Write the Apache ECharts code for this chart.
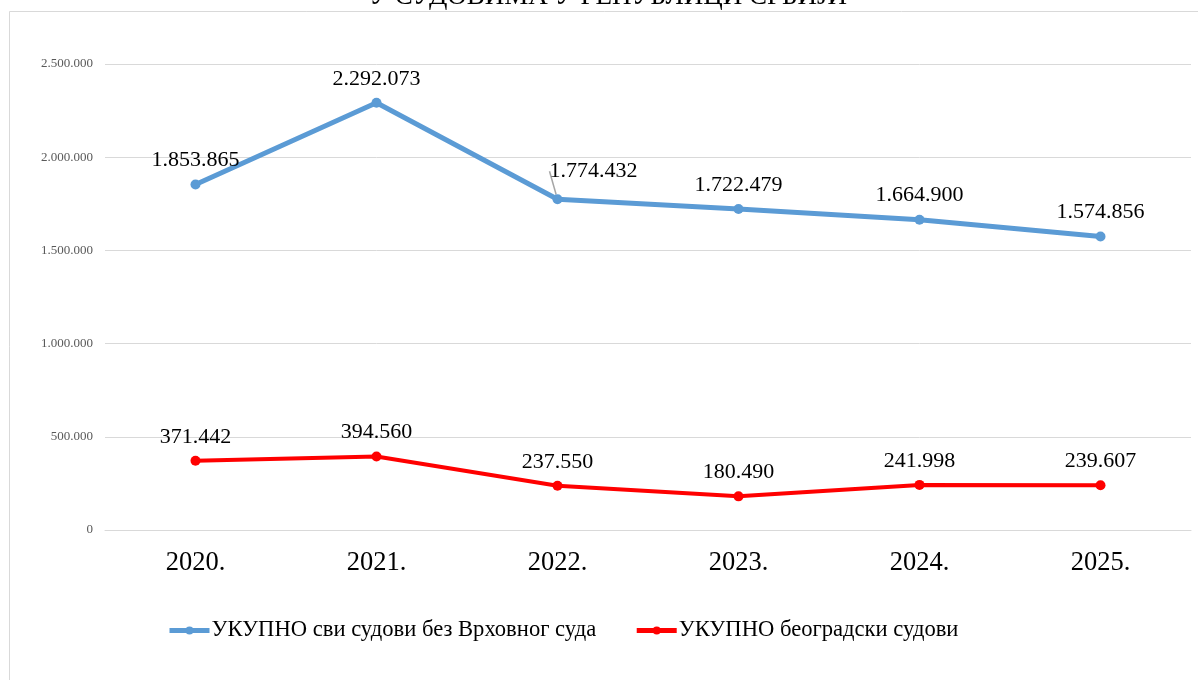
<!DOCTYPE html>
<html>
<head>
<meta charset="utf-8">
<script src="https://cdn.jsdelivr.net/npm/echarts@6/dist/echarts.min.js"></script>
<style>
  html, body { margin: 0; padding: 0; background: #fff; }
  #main { width: 1198px; height: 680px; }
</style>
</head>
<body>
<div id="main"></div>
<script>
var years = ['2020.', '2021.', '2022.', '2023.', '2024.', '2025.'];
var allCourts = [1853865, 2292073, 1774432, 1722479, 1664900, 1574856];
var belgradeCourts = [371442, 394560, 237550, 180490, 241998, 239607];
var seriesNames = ['УКУПНО сви судови без Врховног суда', 'УКУПНО београдски судови'];

// 1.234.567 style
function dots(v) {
    return String(v).replace(/\B(?=(\d{3})+(?!\d))/g, '.');
}

var serif = 'Liberation Serif';

var myChart = echarts.init(document.getElementById('main'));

// only the 2022 label gets pulled aside with a leader line
var allCourtsData = allCourts.map(function (v, i) {
    return i === 2 ? { value: v, labelLine: { show: true } } : v;
});

var option = {
    backgroundColor: '#fff',
    title: {
        text: 'У СУДОВИМА У РЕПУБЛИЦИ СРБИЈИ',
        left: 364,
        top: -22,
        textStyle: { fontFamily: serif, fontSize: 27, fontWeight: 'normal', color: '#000' }
    },
    graphic: [{
        type: 'rect',
        shape: { x: 9.5, y: 11.5, width: 1300, height: 800 },
        style: { fill: 'none', stroke: '#d9d9d9', lineWidth: 1 },
        silent: true
    }],
    grid: {
        left: 105,
        right: 7,
        top: 64,
        bottom: 150
    },
    legend: {
        left: 162,
        top: 614,
        itemWidth: 40,
        itemHeight: 10,
        itemGap: 38,
        textStyle: { fontFamily: serif, fontSize: 22.6, color: '#000', padding: [0, 0, 0, -3] },
        data: [
            { name: seriesNames[0], lineStyle: { width: 5 } },
            { name: seriesNames[1], lineStyle: { width: 5 } }
        ]
    },
    xAxis: {
        type: 'category',
        data: years,
        boundaryGap: true,
        axisLine: { lineStyle: { color: '#d9d9d9' } },
        axisTick: { show: false },
        axisLabel: { fontFamily: serif, fontSize: 26.5, color: '#000', margin: 20 }
    },
    yAxis: {
        type: 'value',
        min: 0,
        max: 2500000,
        interval: 500000,
        axisLine: { show: false },
        axisTick: { show: false },
        splitLine: { lineStyle: { color: '#d9d9d9' } },
        axisLabel: {
            fontFamily: serif, fontSize: 13, color: '#595959', margin: 12,
            formatter: function (v) { return dots(v); }
        }
    },
    labelLayout: function (params) {
        if (params.seriesIndex === 0 && params.dataIndex === 2) {
            return { dx: 36, dy: -4 };
        }
    },
    series: [
        {
            name: seriesNames[0],
            type: 'line',
            data: allCourtsData,
            symbol: 'circle',
            symbolSize: 10,
            color: '#5B9BD5',
            lineStyle: { width: 5, color: '#5B9BD5' },
            label: {
                show: true, position: 'top', distance: 8,
                fontFamily: serif, fontSize: 22, color: '#000',
                formatter: function (p) { return dots(p.value); }
            },
            labelLine: { show: false, lineStyle: { color: '#a6a6a6', width: 1.5 } }
        },
        {
            name: seriesNames[1],
            type: 'line',
            data: belgradeCourts,
            symbol: 'circle',
            symbolSize: 10,
            color: '#FF0000',
            lineStyle: { width: 4, color: '#FF0000' },
            label: {
                show: true, position: 'top', distance: 8,
                fontFamily: serif, fontSize: 22, color: '#000',
                formatter: function (p) { return dots(p.value); }
            }
        }
    ]
};

myChart.setOption(option);
</script>
</body>
</html>
